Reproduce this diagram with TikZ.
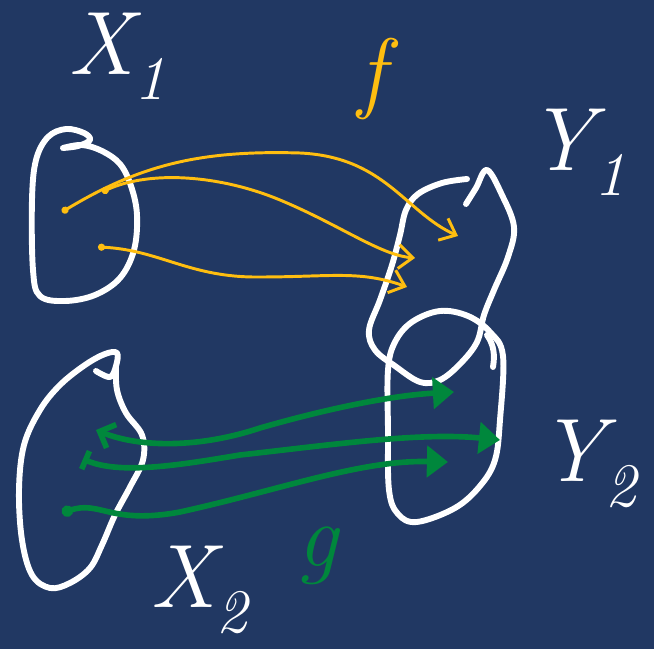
\documentclass[tikz,border=0pt]{standalone}
\usepackage{tikz}
\usetikzlibrary{arrows.meta}
\definecolor{BoardBlue}{HTML}{213863}
\definecolor{ChalkYellow}{HTML}{FFBE10}
\definecolor{ChalkGreen}{HTML}{00873C}
\newcommand{\chalksub}[1]{\raisebox{-0.28em}{\fontsize{44}{44}\selectfont #1}}
\tikzset{
  gend/.tip={Triangle[length=15pt,width=22pt]},
  fend/.tip={Straight Barb[length=10pt,width=17pt]},
}

\begin{document}
\begin{tikzpicture}[
  x=0.025cm, y=-0.025cm,
  blob/.style={draw=white, line width=4.2pt, line cap=round, line join=round},
  chalk/.style={text=white, font=\fontsize{64}{64}\selectfont\itshape, inner sep=0pt},
  farr/.style={ChalkYellow, line width=2.1pt, line cap=round, {Circle[length=5pt]}-fend},
  garr/.style={ChalkGreen, line width=4pt, line cap=round},
]

\fill[BoardBlue] (0,0) rectangle (654,649);

% the four sets
\draw[blob] plot[smooth, tension=0.6] coordinates {(63,148) (82,145) (102,151) (120,164) (131,186) (137,215) (134,250) (120,278) (95,295) (65,301) (40,296) (33,270) (32,200) (36,160) (48,137) (66,129) (84,133) (90,140) (78,146) (63,148)};
\draw[blob] plot[smooth, tension=0.6] coordinates {(467,179) (442,183) (418,194) (406,210) (400,235) (392,265) (380,300) (369,330) (375,350) (395,366) (420,382) (440,380) (460,364) (477,342) (484,315) (494,290) (508,257) (514,227) (502,195) (487,170) (476,188) (466,204)};
\draw[blob] plot[smooth cycle, tension=0.6] coordinates {(388,370) (395,342) (412,322) (440,311) (468,316) (490,332) (503,356) (500,420) (495,460) (480,486) (455,508) (417,522) (398,514) (389,490) (388,430)};
\draw[blob] (487,335) .. controls (494,345) and (495,355) .. (493,367);
\draw[blob] plot[smooth, tension=0.6] coordinates {(96,371) (110,377) (116,366) (117,353) (105,354) (85,365) (60,385) (40,410) (24,445) (19,490) (22,540) (32,575) (50,588) (70,583) (90,568) (102,545) (115,515) (130,487) (143,460) (142,435) (126,413) (117,390) (116,366)};

% labels
\node[chalk] (lx1) at (117,56) {X\chalksub{1}};
\node[chalk] (ly1) at (577,152) {Y\chalksub{1}};
\node[chalk] (ly2) at (588,464) {Y\chalksub{2}};
\node[chalk] (lx2) at (199,590) {X\chalksub{2}};
\node[chalk, text=ChalkYellow] (lf) at (372,79) {f};
\node[chalk, text=ChalkGreen] (lg) at (318,556) {g};

% points of the maps
\coordinate (fa0) at (62,212);
\coordinate (fa1) at (458,236);
\coordinate (fb0) at (102,192);
\coordinate (fb1) at (415,258);
\coordinate (fc0) at (98,247);
\coordinate (fc1) at (407,287);
\coordinate (ga0) at (96,430);
\coordinate (ga1) at (454,392);
\coordinate (gb0) at (83,459);
\coordinate (gb1) at (500,440);
\coordinate (gc0) at (62,513);
\coordinate (gc1) at (448,462);

% f
\draw[farr] (fa0) .. controls (140,165) and (200,150) .. (300,153) .. controls (385,157) and (405,212) .. (fa1);
\draw[farr] (fb0) .. controls (150,170) and (220,175) .. (280,200) .. controls (340,225) and (380,255) .. (fb1);
\draw[farr] (fc0) .. controls (160,250) and (190,278) .. (260,277) .. controls (330,277) and (360,270) .. (fc1);

% g
\draw[garr, {Straight Barb[length=9pt,width=18pt]}-gend] (ga0) .. controls (140,448) and (200,448) .. (260,428) .. controls (340,405) and (400,395) .. (ga1);
\draw[garr, {Bar[width=14pt]}-gend] (gb0) .. controls (120,475) and (180,465) .. (240,455) .. controls (330,445) and (420,432) .. (gb1);
\draw[garr, {Circle[length=8pt]}-gend] (gc0) .. controls (100,500) and (110,525) .. (180,512) .. controls (280,490) and (360,460) .. (gc1);

\end{tikzpicture}
\end{document}
